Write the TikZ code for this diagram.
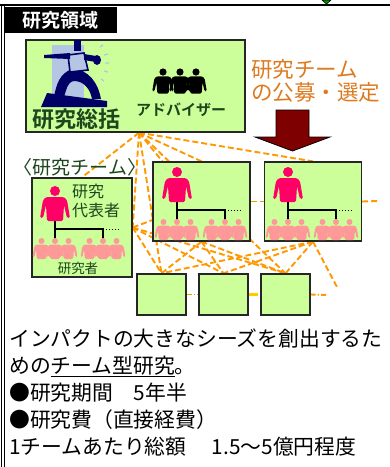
\documentclass[tikz,border=0pt]{standalone}
\usepackage{fontspec}
\setmainfont{Noto Sans CJK JP}[BoldFont={Noto Sans CJK JP Bold}]
\usepackage{tikz}
\usetikzlibrary{backgrounds}
\definecolor{boxgreen}{HTML}{CCFF99}
\definecolor{leadpink}{HTML}{FF0066}
\definecolor{memberpink}{HTML}{FF9999}
\definecolor{linkorange}{HTML}{FF9900}
\definecolor{linkyellow}{HTML}{FFCC00}
\definecolor{calltext}{HTML}{DD7A1F}
\definecolor{labelgreen}{HTML}{1C461C}
\definecolor{arrowred}{HTML}{7F0000}
\definecolor{skyblue}{HTML}{B4C6E4}
\definecolor{figblue}{HTML}{000066}
% underline drawn as a rule below the text
\newsavebox\marklinebox
\newcommand\markline[1]{\sbox\marklinebox{#1}\rlap{\rule[-3.5pt]{\wd\marklinebox}{1.2pt}}\usebox\marklinebox}

\begin{document}
\begin{tikzpicture}[x=1pt, y=-1pt,
    every node/.style={inner sep=0pt},
    field/.style={draw=black!85, line width=1.3pt, fill=boxgreen},
    link/.style={draw=linkorange, line width=1.9pt, dash pattern=on 6pt off 3pt},
    person/.pic={
      \fill[pic actions] (0,0) circle (5);
      \fill[pic actions, rounded corners=1.5pt] (-9,6) -- (9,6) -- (12,9)
        -- (15,27) -- (12,27) -- (9,14) -- (8,30) -- (-8,30) -- (-9,14)
        -- (-12,27) -- (-15,27) -- (-12,9) -- cycle;
    },
    team/.pic={
      \draw[line width=1.2pt] (0,28) -- (0,48);
      \draw[line width=1.2pt] (0,38) -- (48,38) -- (48,48);
      \draw[line width=.9pt, dotted] (48,38) -- (63,38);
      \pic[fill=leadpink] at (0,0) {person};
      \foreach \dx in {-13.5,0,13.5,34.5,48,61.5}
        \pic[fill=memberpink, scale=.6] at (\dx,50) {person};
    },
  ]
  \useasboundingbox (0,0) rectangle (390,467);

  % frame and title
  \draw[line width=2pt] (0,5) -- (390,5);
  \draw[line width=1pt] (1,5) -- (1,467);
  \draw[line width=1pt] (4.5,5) -- (4.5,467);
  \filldraw[fill=green!60!black, draw=black, line width=.6pt]
    (322,0) -- (331,0) -- (326.5,4) -- cycle;
  \node[fill=black, text=white, font=\bfseries\fontsize{19}{20}\selectfont,
        minimum width=112pt, minimum height=26pt] (title) at (61,20) {研究領域};

  % research area box
  \node[field, minimum width=219pt, minimum height=92pt] (main) at (135.5,86) {};
  \fill[skyblue] (52,45) rectangle (84,101);
  \fill[figblue] (41,107) -- (107,107) -- (107,101) -- (47,93) -- cycle;
  \fill[figblue] (54,97) to[out=80,in=200] (72,69) to[out=0,in=100] (101,99)
    -- (92,99) to[out=100,in=0] (74,81) to[out=190,in=70] (64,97) -- cycle;
  \draw[figblue, line width=1.6pt, fill=skyblue] (70,72) -- (68,55) -- (84,53) -- (88,70) -- cycle;
  \fill[figblue] (44,55) -- (70,53) -- (70,59) -- (44,58) -- cycle;
  \fill[figblue] (84,54) -- (96,56) -- (96,62) -- (84,60) -- cycle;
  \fill[figblue] (97,60) ellipse (4 and 5);
  \fill[figblue] (74,40) rectangle (81,51);
  \draw[skyblue, line width=1.3pt]
    (100,47) -- (103,45)  (104,55) -- (108,54)  (105,63) -- (109,63)
    (104,71) -- (108,72)  (101,79) -- (104,81);
  \foreach \px in {163,180,196}
    \pic[fill=black, scale=.72] at (\px,72) {person};
  \node[text=labelgreen, font=\bfseries\fontsize{22}{24}\selectfont] (chief) at (77,119) {研究総括};
  \node[text=labelgreen, font=\bfseries\fontsize{15}{17}\selectfont] (advisor) at (181,110) {アドバイザー};

  % call for teams
  \node[anchor=west, align=left, text=calltext, font=\fontsize{21.5}{23.5}\selectfont] (call) at (251,81)
    {研究チーム\\の公募・選定};
  \filldraw[fill=arrowred, draw=black, line width=.8pt]
    (276,110) -- (309,110) -- (309,137) -- (330,137) -- (292.5,151)
    -- (255,137) -- (276,137) -- cycle;

  % teams
  \node[text=labelgreen, font=\fontsize{19}{20}\selectfont] (teamtag) at (80,167) {〈研究チーム〉};
  \node[field, minimum width=100pt, minimum height=99pt] (teamL) at (82,227.5) {};
  \node[field, minimum width=97pt, minimum height=79pt] (teamA) at (201.5,201.5) {};
  \node[field, minimum width=97pt, minimum height=79pt] (teamB) at (313,201.5) {};
  \node[field, minimum width=49pt, minimum height=41pt] (subA) at (161.5,294.5) {};
  \node[field, minimum width=49pt, minimum height=41pt] (subB) at (223.5,294.5) {};
  \node[field, minimum width=49pt, minimum height=41pt] (subC) at (285.5,294.5) {};
  \pic at (55,191) {team};
  \pic at (177,172) {team};
  \pic at (288,172) {team};
  \node[anchor=west, align=left, text=labelgreen, font=\fontsize{16}{19}\selectfont] (lead) at (72,201)
    {研究\\代表者};
  \node[text=labelgreen, font=\fontsize{13.5}{15}\selectfont] (staff) at (78,268) {研究者};

  % links between teams
  \coordinate (hub) at ([xshift=3.5pt]main.south);
  \coordinate (tailB) at (337,287);
  \coordinate (tailR) at (378,201);
  \coordinate (tailS) at (328,295);
  \begin{scope}[on background layer]
    \fill[white] (0,0) rectangle (390,467);
    \draw[link] (hub) -- (teamL.north);
    \draw[link] (hub) -- ([xshift=10pt]teamA.north west);
    \draw[link] (hub) -- (teamA.north);
    \draw[link] (hub) -- (teamB.north);
    \draw[link] (hub) -- (teamL.east);
    \draw[link] (hub) -- (subA.north);
    \draw[link] (hub) -- (subC.north);
    \draw[link] (teamL.east) -- (teamA.center);
    \foreach \s in {subA,subB,subC} {
      \draw[link] (teamL.east) -- (\s.north);
      \draw[link] (teamA.south) -- (\s.north);
      \draw[link] (teamB.south) -- (\s.north);
    }
    \draw[link] (teamB.south) -- (tailB);
    \draw[link] (teamA.east) -- (teamB.west);
    \draw[link] (teamB.east) -- (tailR);
    \draw[link, dash pattern=on 5pt off 2pt on 1.5pt off 2pt] (subA.east) -- (subB.west);
    \draw[draw=linkyellow, line width=2.4pt, dash pattern=on 9pt off 2pt] (subB.east) -- (subC.west);
    \draw[link, dash pattern=on 5pt off 2pt on 1.5pt off 2pt] (subC.east) -- (tailS);
  \end{scope}

  % summary
  \node[anchor=north west, align=left, font=\fontsize{20.8}{26.8}\selectfont] (summary) at (9,329)
    {インパクトの大きなシーズを創出するた\\めの\markline{チーム型研究}。\\●研究期間　5年半\\●研究費（直接経費）\\1チームあたり総額　\ 1.5～5億円程度};
\end{tikzpicture}
\end{document}
